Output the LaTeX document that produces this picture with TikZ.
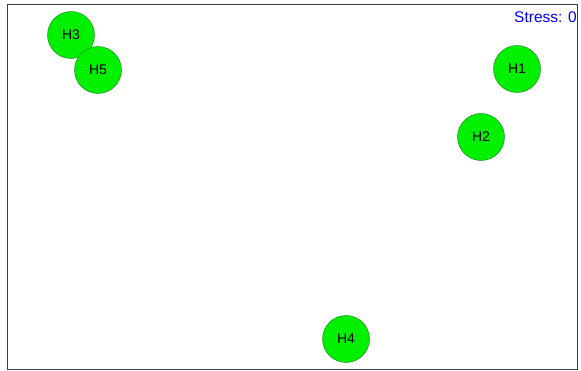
\documentclass[tikz,border=0pt]{standalone}
\usepackage{fontspec}
\setmainfont{Liberation Sans}
\usetikzlibrary{positioning}
\definecolor{hostgreen}{RGB}{0,240,0}
\definecolor{hostedge}{RGB}{20,120,20}
\tikzstyle{host}=[circle,fill=hostgreen,draw=hostedge,minimum size=47pt,inner sep=0pt,font=\fontsize{14}{14}\selectfont]
\tikzstyle{frame}=[draw=black!75,line width=1pt]
\tikzstyle{stress}=[text=blue,inner sep=0pt,font=\fontsize{15.5}{15.5}\selectfont]

\begin{document}
\begin{tikzpicture}[x=1pt,y=-1pt]

   \useasboundingbox (0,0) rectangle (581,371);

% Frame
   \path[frame] (7,5) rectangle (577,369);

% Hosts
    \foreach \pos/\name/\label in {{(71,35)/h3/H3}, {(98,70)/h5/H5}, {(517,69)/h1/H1}, {(481,137)/h2/H2}, {(346,339)/h4/H4}}
        \node[host] (\name) at \pos {\label};

% Label
   \node[stress, anchor=base east] (stress) at (577,23) {Stress: 0};

\end{tikzpicture}
\end{document}
